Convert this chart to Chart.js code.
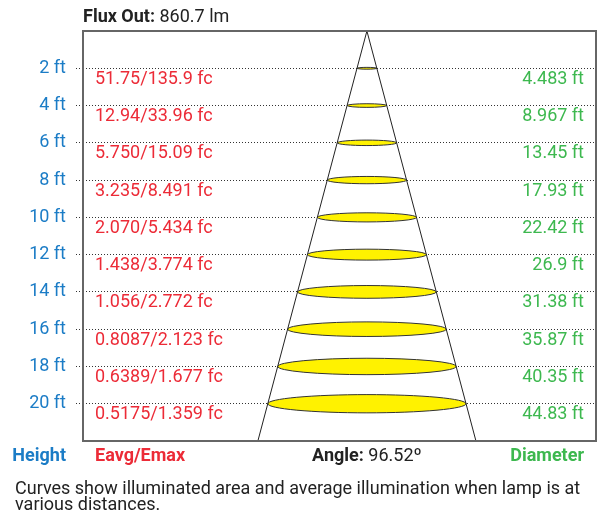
<!DOCTYPE html>
<html>
<head>
<meta charset="utf-8">
<script src="https://cdn.jsdelivr.net/npm/chart.js@4.4.1/dist/chart.umd.min.js"></script>
<style>
  html, body { margin: 0; padding: 0; background: #fff; }
  #wrap { width: 601px; height: 516px; position: relative; }
</style>
</head>
<body>
<div id="wrap"><canvas id="chart" width="601" height="516"></canvas></div>
<script>
// photometric data
const heights = [2, 4, 6, 8, 10, 12, 14, 16, 18, 20];
const eavg = ["51.75", "12.94", "5.750", "3.235", "2.070", "1.438", "1.056", "0.8087", "0.6389", "0.5175"];
const emax = ["135.9", "33.96", "15.09", "8.491", "5.434", "3.774", "2.772", "2.123", "1.677", "1.359"];
const diameters = [4.483, 8.967, 13.45, 17.93, 22.42, 26.9, 31.38, 35.87, 40.35, 44.83];
const beamAngle = "96.52";
const fluxOut = "860.7 lm";
const caption = ["Curves show illuminated area and average illumination when lamp is at", "various distances."];

const FONT = "Roboto";
const FS = 18;
const BLUE = "#1b7cc6";
const RED = "#ec2b37";
const GREEN = "#3db84f";
const DARK = "#222";
const H_MAX = 22;

// cone edge at the bottom of the frame, from the beam angle
const halfTan = Math.tan(parseFloat(beamAngle) / 2 * Math.PI / 180);
const edge = H_MAX * halfTan;

const ellipses = {
  id: "ellipses",
  beforeDatasetsDraw(chart) {
    const { ctx, scales: { x, y } } = chart;
    const cx = x.getPixelForValue(0);
    ctx.save();
    diameters.forEach((d, i) => {
      const cy = y.getPixelForValue(heights[i]);
      const rx = x.getPixelForValue(d / 2) - cx;
      const ry = rx * 0.092;
      ctx.beginPath();
      ctx.ellipse(cx, cy, rx, ry, 0, 0, Math.PI * 2);
      ctx.fillStyle = "#fff200";
      ctx.fill();
      ctx.lineWidth = 1;
      ctx.strokeStyle = "#333";
      ctx.stroke();
    });
    ctx.restore();
  }
};

const labels = {
  id: "labels",
  afterDraw(chart) {
    const { ctx, chartArea: a, scales: { x, y } } = chart;
    const reg = FS + "px " + FONT, bold = "bold " + FS + "px " + FONT;
    ctx.save();
    // frame
    ctx.strokeStyle = "#666";
    ctx.lineWidth = 2;
    ctx.strokeRect(a.left, a.top, a.right - a.left, a.bottom - a.top);

    ctx.font = reg;
    ctx.textBaseline = "middle";
    heights.forEach((h, i) => {
      const yy = y.getPixelForValue(h) + 11;
      ctx.fillStyle = RED;
      ctx.textAlign = "left";
      ctx.fillText(eavg[i] + "/" + emax[i] + " fc", a.left + 12, yy);
      ctx.fillStyle = GREEN;
      ctx.textAlign = "right";
      ctx.fillText(diameters[i] + " ft", a.right - 12, yy);
    });

    // title
    ctx.textBaseline = "alphabetic";
    ctx.textAlign = "left";
    ctx.fillStyle = DARK;
    ctx.font = bold;
    ctx.fillText("Flux Out:", a.left, 22);
    const w = ctx.measureText("Flux Out:").width;
    ctx.font = reg;
    ctx.fillText(" " + fluxOut, a.left + w, 22);

    // footer row
    const fy = a.bottom + 15;
    ctx.textBaseline = "middle";
    ctx.font = bold;
    ctx.fillStyle = BLUE;
    ctx.textAlign = "right";
    ctx.fillText("Height", a.left - 17, fy);
    ctx.fillStyle = RED;
    ctx.textAlign = "left";
    ctx.fillText("Eavg/Emax", a.left + 12, fy);
    ctx.fillStyle = GREEN;
    ctx.textAlign = "right";
    ctx.fillText("Diameter", a.right - 12, fy);

    const cx = x.getPixelForValue(0);
    const t1 = "Angle:", t2 = " " + beamAngle + "º";
    const w1 = ctx.measureText(t1).width;
    ctx.font = reg;
    const w2 = ctx.measureText(t2).width;
    const sx = cx - (w1 + w2) / 2;
    ctx.textAlign = "left";
    ctx.fillStyle = DARK;
    ctx.font = bold;
    ctx.fillText(t1, sx, fy);
    ctx.font = reg;
    ctx.fillText(t2, sx + w1, fy);

    // caption
    ctx.textBaseline = "alphabetic";
    ctx.fillStyle = DARK;
    ctx.font = reg;
    ctx.fillText(caption[0], 15, 494);
    ctx.fillText(caption[1], 15, 510);
    ctx.restore();
  }
};

new Chart(document.getElementById("chart"), {
  type: "scatter",
  data: {
    datasets: [
      { data: [{ x: 0, y: 0 }, { x: -edge, y: H_MAX }] },
      { data: [{ x: 0, y: 0 }, { x: edge, y: H_MAX }] }
    ].map(ds => Object.assign(ds, {
      showLine: true,
      pointRadius: 0,
      borderColor: "#222",
      borderWidth: 1
    }))
  },
  options: {
    responsive: false,
    animation: false,
    layout: { padding: { top: 31, bottom: 75, right: 5, left: 0 } },
    plugins: { legend: { display: false }, tooltip: { enabled: false } },
    scales: {
      x: { type: "linear", min: -64.2, max: 51.8, display: false },
      y: {
        type: "linear",
        reverse: true,
        min: 0,
        max: H_MAX,
        afterFit(s) { s.width = 83; },
        ticks: {
          stepSize: 2,
          padding: 10,
          color: BLUE,
          font: { family: FONT, size: FS },
          callback: v => heights.includes(v) ? v + " ft" : ""
        },
        grid: {
          color: c => heights.includes(c.tick && c.tick.value) ? "#333" : "transparent",
          lineWidth: 1,
          tickLength: 7,
          tickBorderDash: [1, 2]
        },
        border: { display: false, dash: [1, 2] }
      }
    }
  },
  plugins: [ellipses, labels]
});
</script>
</body>
</html>
